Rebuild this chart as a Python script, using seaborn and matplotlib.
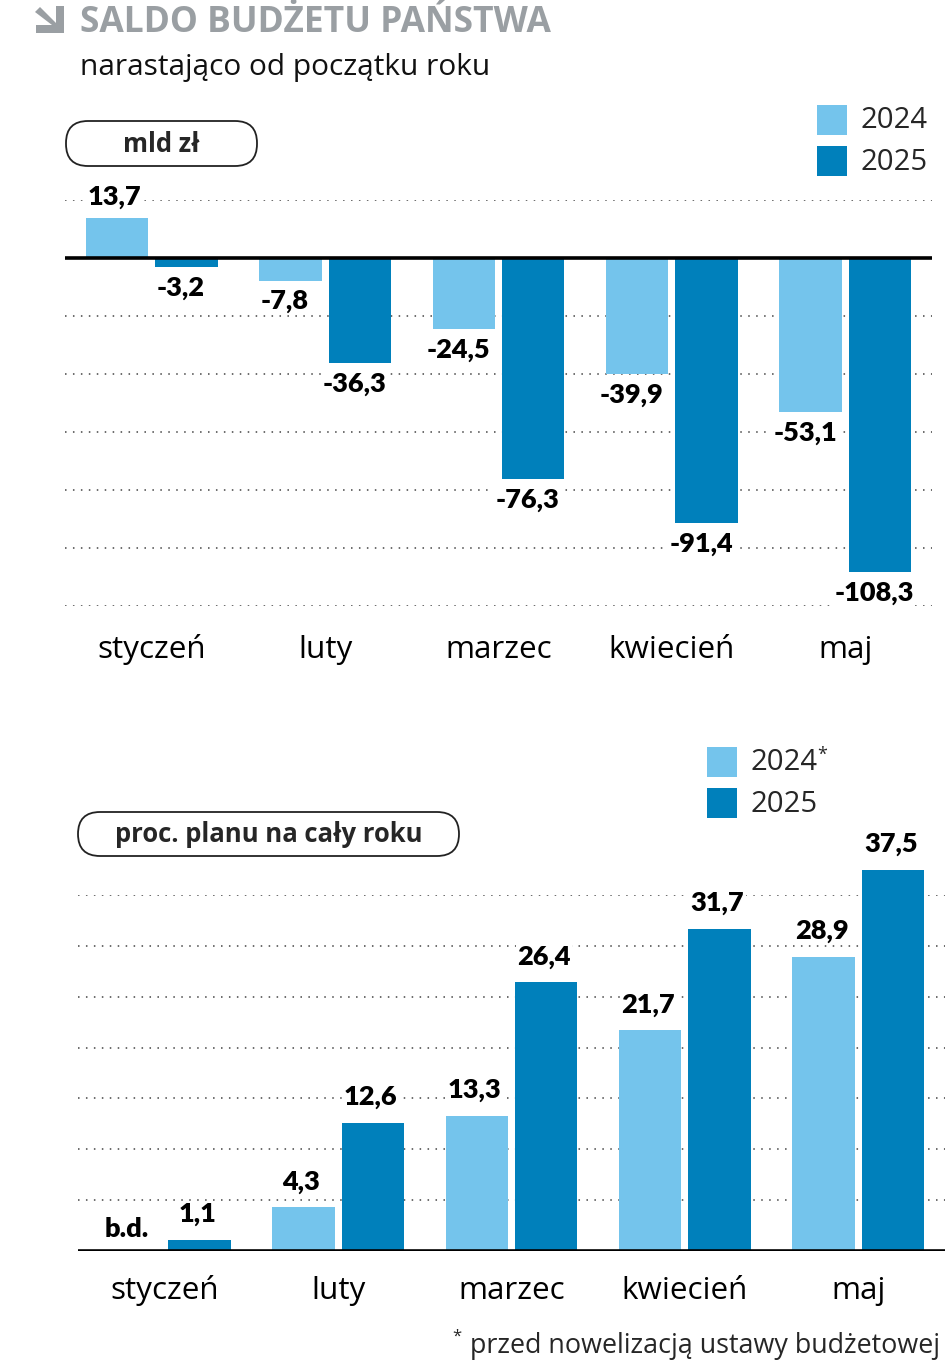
import numpy as np
import pandas as pd
import matplotlib
matplotlib.use("Agg")
import matplotlib.pyplot as plt
import matplotlib.transforms as mtransforms
from matplotlib.patches import Rectangle, FancyBboxPatch, Polygon
from matplotlib.text import Annotation
import seaborn as sns

# ---------------- data ----------------
months = ["styczeń", "luty", "marzec", "kwiecień", "maj"]
years = ["2024", "2025"]
saldo_2024 = [13.7, -7.8, -24.5, -39.9, -53.1]
saldo_2025 = [-3.2, -36.3, -76.3, -91.4, -108.3]
plan_2024 = [np.nan, 4.3, 13.3, 21.7, 28.9]
plan_2025 = [1.1, 12.6, 26.4, 31.7, 37.5]
top_grid = [20, -20, -40, -60, -80, -100, -120]
bottom_grid = [5, 10, 15, 20, 25, 30, 35]
legend_top = ["2024", "2025"]
legend_bottom = ["2024", "2025"]

LIGHT = "#74C4EC"
DARK = "#0080BB"
GREY = "#9A9FA3"
REG = ["Open Sans", "DejaVu Sans"]
BOLD = ["Lato", "DejaVu Sans"]

sns.set_theme(style="white")
plt.rcParams["font.family"] = REG

W, H = 947, 1362
fig = plt.figure(figsize=(W / 100, H / 100), dpi=100)
px = mtransforms.Affine2D().scale(1 / W, -1 / H).translate(0, 1) + fig.transFigure
renderer = fig.canvas.get_renderer()


def fx(x):
    return x / W


def fy(y):
    return 1 - y / H


def fit(t, target):
    w = t.get_window_extent(renderer).width
    t.set_fontsize(t.get_fontsize() * target / w)
    return t


df_top = pd.DataFrame({
    "miesiac": months * 2,
    "rok": [years[0]] * 5 + [years[1]] * 5,
    "wartosc": saldo_2024 + saldo_2025,
})
df_bot = pd.DataFrame({
    "miesiac": months * 2,
    "rok": [years[0]] * 5 + [years[1]] * 5,
    "wartosc": plan_2024 + plan_2025,
})

ax1 = fig.add_axes([fx(65), fy(606), 867 / W, 406 / H])
ax2 = fig.add_axes([fx(78), fy(1251), 867 / W, 356 / H])

for ax, df, grid, ylim, pad in [(ax1, df_top, top_grid, (-120, 20), 31.5),
                                (ax2, df_bot, bottom_grid, (0, 35), 28.8)]:
    sns.barplot(data=df, x="miesiac", y="wartosc", hue="rok", order=months,
                hue_order=years, palette=[LIGHT, DARK], width=0.8, gap=0.1,
                errorbar=None, ax=ax, legend=False, zorder=3, linewidth=0,
                saturation=1)
    for p in ax.patches:
        p.set_clip_on(False)
    ax.set_xlim(-0.5, 4.5)
    ax.set_ylim(*ylim)
    for g in grid:
        ax.axhline(g, color="#444444", lw=1.1, dashes=(1, 4.2), zorder=1)
    ax.axhline(0, color="black", lw=2.6, zorder=5, solid_capstyle="butt")
    for s in ax.spines.values():
        s.set_visible(False)
    ax.set_yticks([])
    ax.set_xlabel("")
    ax.set_ylabel("")
    ax.tick_params(axis="x", length=0, labelsize=20, colors="black", pad=pad)
    for lab in ax.get_xticklabels():
        lab.set_va("center")
    ax.patch.set_alpha(0)

# month label size fitted on "styczeń" (108 px wide in the reference)
lab0 = ax1.get_xticklabels()[0]
fit(lab0, 108)
for ax in (ax1, ax2):
    for lab in ax.get_xticklabels():
        lab.set_fontsize(lab0.get_fontsize())


def fmt(v):
    return f"{v:.1f}".replace(".", ",")


def label_bars(ax, data_lists, up_off, down_off):
    for hi, cont in enumerate(ax.containers):
        vals = data_lists[hi]
        found = {}
        for bar in cont:
            xc = bar.get_x() + bar.get_width() / 2
            if np.isnan(bar.get_height()):
                continue
            found[int(round(xc))] = xc
        shift = np.mean([xc - i for i, xc in found.items()])
        for idx, v in enumerate(vals):
            xc = found.get(idx, idx + shift)
            if np.isnan(v):
                txt, yv, off, dx = "b.d.", 0, up_off - 3, -2
            else:
                txt, yv = fmt(v), v
                off = up_off if v >= 0 else -down_off
                dx = -4 if v < 0 else -1.5
            ax.annotate(txt, (xc, yv), xytext=(dx, off), textcoords="offset points",
                        ha="center", va="center", fontsize=19.5, fontweight="heavy",
                        family=BOLD, color="black", zorder=6, annotation_clip=False,
                        bbox=dict(boxstyle="square,pad=0.05", fc="white", ec="none"))


label_bars(ax1, [saldo_2024, saldo_2025], 15, 15)
label_bars(ax2, [plan_2024, plan_2025], 18.5, 15)

# ---------------- header ----------------
icon = Polygon([(35, 12), (40, 7), (56, 23), (56, 6), (64, 6), (64, 33),
                (36, 33), (36, 25), (52, 25)], closed=True, fc=GREY, ec="none",
               transform=px)
fig.patches.append(icon)
t = fig.text(fx(80), fy(32), "SALDO BUDŻETU PAŃSTWA", color=GREY, fontsize=24,
             fontweight="bold", va="baseline", ha="left")
fit(t, 472)
t = fig.text(fx(80), fy(75), "narastająco od początku roku", color="#111111",
             fontsize=19.5, va="baseline", ha="left")
fit(t, 412)

# pills
for (x0, y0, x1, y1, txt, tw) in [(66, 121, 257, 166, "mld zł", 77),
                                  (78, 812, 459, 856, "proc. planu na cały roku", 308)]:
    pill = FancyBboxPatch((x0, y0), (x1 - x0), y1 - y0,
                          boxstyle="round,pad=0,rounding_size=22",
                          fc="white", ec="#222222", lw=1.3, transform=px)
    fig.patches.append(pill)
    t = fig.text(fx((x0 + x1) / 2), fy((y0 + y1) / 2 + 1), txt, fontsize=17,
                 fontweight="bold", ha="center", va="center")
    fit(t, tw)

# legends
for (lx, ly, labels, star) in [(817, 105, legend_top, False),
                               (707, 747, legend_bottom, True)]:
    for i, (lab, col) in enumerate(zip(labels, [LIGHT, DARK])):
        y = ly + i * 41
        fig.patches.append(Rectangle((lx, y), 30, 30, fc=col, ec="none",
                                     transform=px))
        t = fig.text(fx(lx + 43), fy(y + 16), lab, fontsize=20,
                     ha="left", va="center")
        fit(t, 67)
        if star and i == 0:
            fig.add_artist(Annotation("*", xy=(1.0, 0.78), xycoords=t,
                                      ha="left", va="center", fontsize=13))

# footnote
t = fig.text(fx(940), fy(1346), "przed nowelizacją ustawy budżetowej",
             fontsize=18, ha="right", va="center")
fit(t, 470)
fig.add_artist(Annotation("*", xy=(0.0, 0.85), xytext=(-6, 0),
                          textcoords="offset points", xycoords=t,
                          ha="right", va="center", fontsize=12))

fig.savefig("out.png", dpi=100)
